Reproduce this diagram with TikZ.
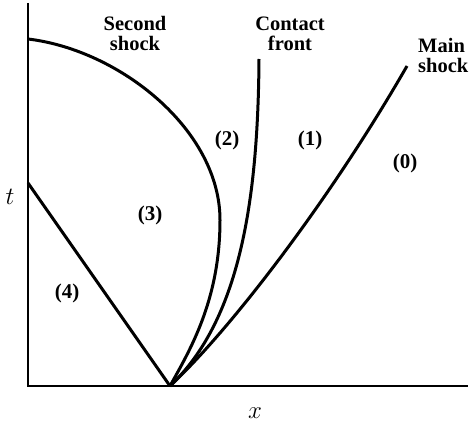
\documentclass[tikz,border=0pt]{standalone}
\usepackage{fontspec}
\setmainfont{Liberation Serif}
\tikzset{
  axisline/.style={line width=2.3pt},
  wave/.style={line width=3pt},
  region/.style={font=\fontsize{21}{21}\selectfont\bfseries},
  caption/.style={font=\fontsize{20.5}{20}\selectfont\bfseries, align=center},
}

\begin{document}
\begin{tikzpicture}[x=1pt, y=-1pt]
  \useasboundingbox (0,0) rectangle (471,428);
  \coordinate (Top) at (28,3);
  \coordinate (Corner) at (28,386);
  \coordinate (Right) at (468,386);
  \coordinate (O) at (170,386);
  \coordinate (L) at (28,183);
  \coordinate (S) at (28,39);
  \coordinate (Sx) at (220,220);
  \coordinate (C) at (259,59);
  \coordinate (M) at (407,66);
  \draw[axisline] (Top) -- (Corner) -- (Right);
  \draw[wave] (O) -- (L);
  \draw[wave] (S) .. controls (120,50) and (220,130) .. (Sx)
                  .. controls (220,300) and (190,350) .. (O);
  \draw[wave] (O) .. controls (240,320) and (258,200) .. (C);
  \draw[wave] (O) .. controls (230,330) and (330,200) .. (M);
  \node[caption] (second) at (135,33) {Second\\shock};
  \node[caption] (contact) at (290,34) {Contact\\front};
  \node[caption, align=left, anchor=west, inner sep=0pt] (main) at (418,55) {Main\\shock};
  \node[region] (r0) at (405,163) {(0)};
  \node[region] (r1) at (310,140) {(1)};
  \node[region] (r2) at (227,140) {(2)};
  \node[region] (r3) at (150,215) {(3)};
  \node[region] (r4) at (67,293) {(4)};
  \node[font=\fontsize{23}{23}\selectfont] (tlab) at (10,197) {$t$};
  \node[font=\fontsize{23}{23}\selectfont] (xlab) at (255,413) {$x$};
\end{tikzpicture}
\end{document}
